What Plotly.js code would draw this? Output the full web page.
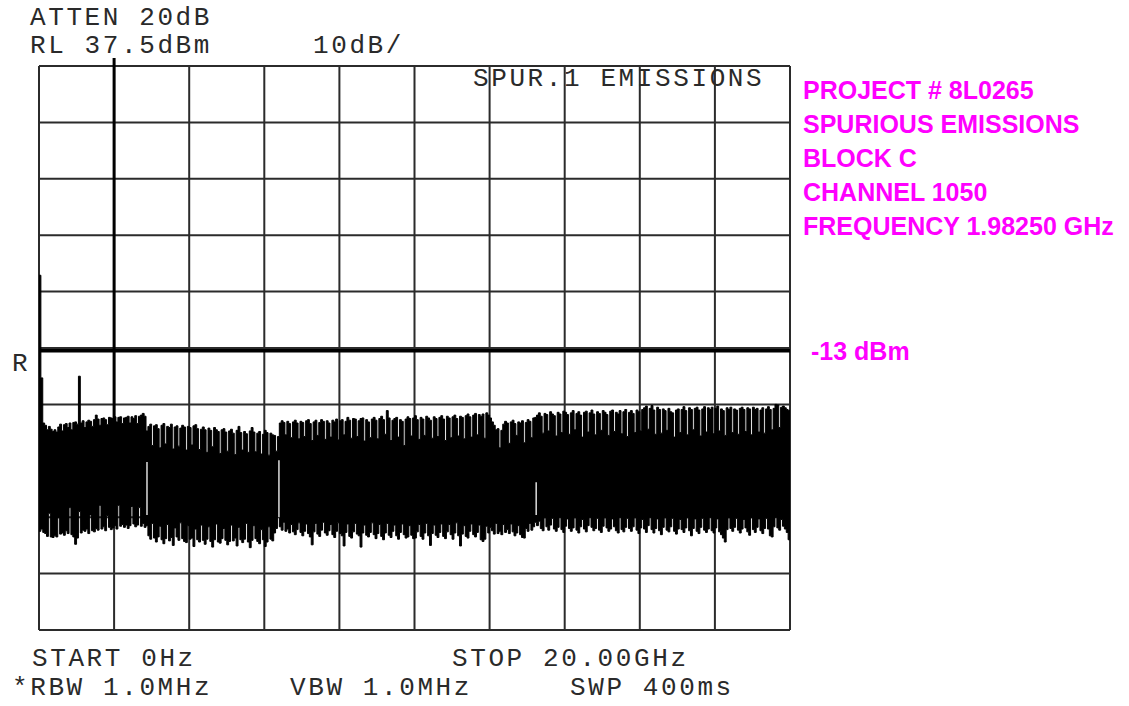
<!DOCTYPE html>
<html>
<head>
<meta charset="utf-8">
<script src="https://cdn.plot.ly/plotly-3.0.1.min.js"></script>
<style>
  html, body { margin: 0; padding: 0; background: #fff; }
  #chart { width: 1129px; height: 706px; }
</style>
</head>
<body>
<div id="chart"></div>
<script>
// ---------------- data ----------------
const START_GHZ = 0;
const STOP_GHZ = 20;
const REF_LEVEL_DBM = 37.5;
const DB_PER_DIV = 10;
const DISPLAY_LINE_DBM = -13;

// peak (max) of each sweep bucket, dBm, 400 buckets from START to STOP
const traceMax = [
  0.4, -17.8, -25.8, -26.2, -27.0, -26.4, -26.9, -27.3, -27.0, -27.4, -26.5, -26.0, -27.2, -26.1, -25.9, -26.6, -25.8, -27.0, -25.7, -25.6,
  -26.0, -17.5, -25.8, -25.4, -26.6, -25.6, -25.3, -25.5, -26.4, -25.2, -24.4, -25.1, -26.2, -25.0, -24.9, -25.2, -26.1, -24.8, -24.9, -25.0,
  -24.7, -25.6, -24.8, -24.7, -25.9, -24.9, -24.8, -24.6, -25.8, -24.7, -25.0, -24.5, -25.9, -24.6, -24.4, -24.1, -24.6, -27.2, -26.4, -26.0,
  -29.8, -26.3, -26.1, -26.8, -30.2, -26.2, -25.9, -29.5, -26.4, -26.6, -26.0, -30.4, -26.5, -26.3, -29.9, -26.7, -26.2, -26.5, -30.6, -26.4,
  -26.6, -29.7, -26.3, -26.1, -26.8, -30.5, -26.9, -26.5, -27.0, -31.0, -26.7, -27.1, -30.0, -26.6, -27.0, -27.3, -31.2, -27.0, -26.8, -27.4,
  -30.8, -27.2, -26.9, -27.6, -31.4, -27.1, -26.4, -27.5, -30.6, -27.3, -27.7, -31.0, -27.2, -26.6, -27.4, -30.9, -27.6, -27.3, -31.3, -27.8,
  -27.1, -27.5, -31.5, -27.6, -27.9, -28.0, -30.8, -28.2, -25.8, -25.4, -25.7, -27.9, -25.5, -25.9, -28.4, -25.6, -25.3, -25.8, -28.6, -25.5,
  -25.7, -28.2, -25.4, -25.2, -25.9, -28.9, -25.6, -25.3, -28.0, -25.7, -25.2, -25.5, -28.7, -25.4, -25.8, -28.3, -25.3, -25.6, -25.1, -28.8,
  -25.4, -25.2, -27.9, -25.5, -24.8, -25.3, -28.5, -25.0, -25.1, -28.2, -25.4, -25.0, -24.9, -29.0, -25.2, -25.6, -28.4, -25.1, -24.8, -25.3,
  -28.6, -25.0, -24.6, -25.2, -27.8, -23.6, -24.9, -28.9, -25.3, -25.0, -24.8, -28.3, -25.2, -25.5, -29.8, -25.1, -24.7, -25.0, -28.1, -24.9,
  -24.5, -25.2, -28.7, -24.8, -25.1, -28.0, -24.6, -24.9, -25.3, -28.5, -24.7, -25.0, -28.2, -24.8, -24.5, -25.1, -28.9, -24.6, -24.9, -28.4,
  -24.7, -24.4, -25.0, -28.1, -24.6, -24.8, -28.6, -24.5, -24.2, -24.7, -28.3, -24.4, -24.1, -27.9, -24.3, -24.6, -24.2, -28.5, -24.0, -24.4,
  -24.9, -25.6, -26.2, -27.0, -26.8, -30.2, -27.1, -26.0, -25.5, -25.8, -29.4, -25.6, -25.3, -25.9, -28.0, -25.6, -25.8, -25.4, -29.3, -25.7,
  -25.2, -25.5, -28.4, -24.9, -24.8, -24.4, -24.0, -24.6, -27.6, -24.1, -24.3, -27.2, -23.8, -24.2, -24.5, -28.1, -23.9, -24.2, -27.5, -23.7,
  -23.9, -24.3, -27.8, -24.0, -23.6, -27.0, -24.1, -23.8, -24.4, -28.3, -23.9, -23.7, -27.4, -24.0, -23.5, -24.2, -27.9, -23.8, -24.1, -27.1,
  -23.6, -23.9, -24.3, -28.0, -23.7, -23.5, -27.3, -23.9, -24.2, -23.6, -27.7, -23.8, -23.4, -28.2, -23.9, -23.6, -24.1, -27.5, -23.5, -23.8,
  -27.2, -23.4, -23.1, -22.8, -26.9, -23.2, -22.7, -23.5, -27.8, -23.0, -23.4, -27.6, -23.3, -23.6, -27.1, -23.2, -23.8, -24.0, -28.3, -23.5,
  -23.3, -27.5, -23.4, -22.9, -23.6, -27.9, -23.1, -23.4, -27.0, -23.2, -23.0, -23.5, -28.1, -23.3, -22.9, -27.4, -23.1, -23.4, -23.0, -27.7,
  -23.2, -22.8, -27.2, -23.3, -23.6, -28.0, -23.1, -23.4, -23.0, -27.5, -23.3, -23.5, -27.8, -23.2, -23.0, -23.4, -27.3, -23.1, -23.3, -27.9,
  -23.0, -23.4, -23.2, -27.4, -23.5, -23.1, -27.6, -23.3, -22.9, -23.4, -27.0, -23.2, -22.5, -22.6, -26.6, -23.0, -22.8, -23.1, -23.4, -23.6
];

// trough (min) of each sweep bucket, dBm
const traceMin = [
  -45.0, -44.6, -45.2, -45.4, -45.9, -41.8, -46.0, -46.1, -45.8, -46.0, -42.6, -45.5, -45.3, -45.7, -44.9, -45.4, -40.8, -45.6, -46.0, -47.3,
  -46.2, -41.5, -45.3, -44.8, -45.0, -44.6, -45.4, -42.1, -44.9, -45.1, -44.5, -44.8, -40.4, -44.6, -44.2, -44.9, -42.2, -44.3, -44.7, -44.4,
  -44.0, -44.6, -40.4, -44.1, -43.8, -44.3, -43.9, -44.5, -44.0, -40.6, -43.7, -44.2, -43.9, -40.8, -44.1, -43.6, -44.3, -44.0, -45.8, -46.4,
  -43.6, -46.2, -46.9, -46.0, -44.1, -46.5, -47.2, -46.3, -43.8, -46.7, -46.1, -47.5, -44.4, -46.0, -46.6, -43.5, -46.3, -46.8, -47.0, -44.0,
  -46.4, -46.2, -47.7, -44.6, -46.5, -46.9, -43.9, -46.6, -47.3, -46.4, -44.2, -46.8, -47.8, -46.5, -43.7, -46.9, -47.1, -46.3, -44.5, -46.6,
  -47.4, -46.8, -43.9, -46.7, -46.2, -47.6, -44.3, -46.5, -47.0, -46.4, -43.6, -46.9, -47.9, -46.6, -44.0, -46.3, -46.8, -47.2, -44.7, -46.5,
  -47.7, -46.9, -44.2, -46.4, -46.7, -45.3, -44.5, -42.5, -44.2, -44.8, -43.4, -45.0, -44.6, -45.3, -43.8, -45.1, -45.6, -44.7, -43.5, -45.2,
  -45.8, -45.0, -43.7, -45.4, -46.0, -47.4, -45.1, -43.6, -45.5, -45.9, -44.8, -43.4, -45.3, -45.7, -44.9, -43.8, -45.6, -46.1, -45.0, -43.5,
  -45.4, -45.8, -47.6, -45.2, -43.7, -45.9, -46.2, -45.1, -43.6, -45.5, -45.8, -47.8, -45.3, -43.9, -45.7, -46.0, -45.2, -43.5, -45.6, -46.3,
  -45.4, -43.8, -45.9, -46.5, -45.3, -43.6, -45.7, -46.1, -45.0, -43.9, -45.8, -46.4, -45.2, -43.7, -45.6, -46.2, -46.0, -44.0, -45.7, -46.3,
  -46.2, -45.1, -43.8, -45.9, -46.4, -45.3, -43.6, -45.8, -47.5, -45.4, -43.9, -45.7, -46.1, -45.2, -43.7, -45.9, -46.3, -45.1, -43.8, -45.6,
  -46.4, -45.3, -43.5, -45.8, -47.6, -45.5, -44.0, -45.9, -46.2, -45.0, -43.7, -45.6, -46.0, -45.2, -43.9, -46.5, -46.8, -46.4, -44.1, -45.3,
  -44.3, -44.9, -45.5, -43.6, -45.4, -45.0, -45.6, -43.8, -45.2, -44.7, -45.4, -43.7, -45.1, -45.8, -45.3, -44.0, -45.6, -46.1, -46.2, -44.5,
  -45.0, -43.6, -44.8, -44.2, -43.4, -44.0, -43.2, -44.5, -44.9, -42.6, -44.2, -44.8, -43.9, -42.7, -44.6, -45.0, -44.3, -42.5, -44.7, -45.2,
  -44.1, -42.8, -44.5, -45.0, -44.4, -42.6, -44.8, -45.3, -44.2, -42.9, -44.6, -45.1, -44.0, -42.5, -44.3, -44.9, -44.5, -42.7, -44.8, -45.2,
  -44.1, -42.6, -44.4, -45.0, -44.6, -42.8, -44.2, -44.9, -45.3, -42.5, -44.7, -45.1, -44.3, -42.7, -44.5, -45.0, -44.2, -42.6, -44.8, -45.4,
  -44.4, -42.9, -44.6, -45.2, -44.0, -42.5, -44.7, -45.3, -44.5, -42.8, -44.9, -45.6, -44.3, -42.6, -44.8, -45.1, -44.2, -42.7, -45.0, -45.5,
  -44.6, -42.9, -44.7, -45.2, -44.4, -42.6, -44.9, -45.8, -44.5, -42.8, -45.0, -45.4, -44.3, -42.7, -44.8, -45.2, -44.6, -42.5, -44.9, -45.3,
  -44.4, -42.8, -45.1, -45.6, -46.2, -46.9, -44.7, -42.6, -44.5, -45.0, -44.3, -42.7, -44.8, -45.3, -44.6, -42.9, -44.4, -45.1, -45.7, -42.6,
  -44.7, -45.2, -44.3, -42.8, -44.9, -45.4, -44.5, -42.7, -44.6, -45.8, -46.0, -44.2, -42.5, -44.4, -44.8, -42.9, -44.1, -44.6, -45.2, -46.5
];

// carrier (clipped above reference level)
const carrierFreqGHz = [2.0];
const carrierPeakDbm = [38.9];
const carrierFootDbm = [-25.3];

// one-column gaps where the sweep bands join
const bandJoinFreqGHz = [2.876, 6.39, 13.24];
const bandJoinTopDbm = [-32.7, -32.4, -36.3];
const bandJoinBottomDbm = [-42.1, -42.5, -42.1];

// header / footer texts
const headerLines = ["ATTEN 20dB", "RL 37.5dBm", "10dB/"];
const titleText = "SPUR.1 EMISSIONS";
const infoLines = ["PROJECT # 8L0265", "SPURIOUS EMISSIONS", "BLOCK C", "CHANNEL 1050", "FREQUENCY 1.98250 GHz"];
const limitLabel = "-13 dBm";
const footerLines = ["START 0Hz", "STOP 20.00GHz", "*RBW 1.0MHz", "VBW 1.0MHz", "SWP 400ms"];

// ---------------- layout geometry ----------------
const W = 1129, H = 706;
const M = { l: 35, r: 334, t: 56, b: 72 };
const PW = W - M.l - M.r, PH = H - M.t - M.b;
const GHZ_PX = 751 / (STOP_GHZ - START_GHZ);
const DB_PX = 564 / (10 * DB_PER_DIV);
const xRange = [START_GHZ - (39 - M.l) / GHZ_PX, START_GHZ + (M.l + PW - 39) / GHZ_PX];
const yTopDbm = REF_LEVEL_DBM + (66 - M.t) / DB_PX;
const yRange = [yTopDbm - PH / DB_PX, yTopDbm];
const bottomDbm = REF_LEVEL_DBM - 10 * DB_PER_DIV;

const n = traceMax.length;
const step = (STOP_GHZ - START_GHZ) / n;
const freq = traceMax.map((_, i) => START_GHZ + i * step);
const fx = freq.concat([STOP_GHZ]);
const fMax = traceMax.concat([traceMax[n - 1]]);
const fMin = traceMin.concat([traceMin[n - 1]]);

const traces = [
  { x: fx, y: fMax, type: 'scatter', mode: 'lines', line: { shape: 'hv', color: '#000', width: 1 }, hoverinfo: 'skip' },
  { x: fx, y: fMin, type: 'scatter', mode: 'lines', line: { shape: 'hv', color: '#000', width: 1 },
    fill: 'tonexty', fillcolor: '#000', hoverinfo: 'skip' },
];
// carrier
{
  const cx = [], cy = [];
  carrierFreqGHz.forEach((f, i) => { cx.push(f, f, null); cy.push(carrierFootDbm[i], carrierPeakDbm[i], null); });
  traces.push({ x: cx, y: cy, type: 'scatter', mode: 'lines', line: { color: '#000', width: 3 }, hoverinfo: 'skip' });
}
// band joins
{
  const bx = [], by = [];
  bandJoinFreqGHz.forEach((f, i) => { bx.push(f, f, null); by.push(bandJoinTopDbm[i], bandJoinBottomDbm[i], null); });
  traces.push({ x: bx, y: by, type: 'scatter', mode: 'lines', line: { color: '#fff', width: 1.3 }, hoverinfo: 'skip' });
}

// graticule
const shapes = [];
const gridColor = '#2b2b2b';
for (let k = 0; k <= 10; k++) {
  const gx = START_GHZ + k * (STOP_GHZ - START_GHZ) / 10;
  shapes.push({ type: 'line', xref: 'x', yref: 'y', x0: gx, x1: gx, y0: bottomDbm, y1: REF_LEVEL_DBM,
    line: { color: gridColor, width: 2 }, layer: 'below' });
  const gy = bottomDbm + k * DB_PER_DIV;
  shapes.push({ type: 'line', xref: 'x', yref: 'y', x0: START_GHZ, x1: STOP_GHZ, y0: gy, y1: gy,
    line: { color: gridColor, width: 2 }, layer: 'below' });
}
shapes.push({ type: 'line', xref: 'x', yref: 'y', x0: START_GHZ, x1: STOP_GHZ, y0: DISPLAY_LINE_DBM, y1: DISPLAY_LINE_DBM,
  line: { color: '#000', width: 3.5 }, layer: 'above' });

// text helpers (pixel positions -> paper)
const MONO = { family: 'Liberation Mono, DejaVu Sans Mono, monospace', size: 26, color: '#2a2a2a' };
const MAG = { family: 'Liberation Sans, Arial, sans-serif', size: 25, color: '#ff00ff', weight: 'bold' };
function ann(text, px, py, font) {
  return { xref: 'paper', yref: 'paper', x: (px - M.l) / PW, y: 1 - (py - M.t) / PH,
    xanchor: 'left', yanchor: 'middle', align: 'left', showarrow: false, text: text, font: font, borderpad: 0 };
}
const annotations = [
  ann(headerLines[0], 29, 18, MONO),
  ann(headerLines[1], 29, 46, MONO),
  ann(headerLines[2], 312, 46, MONO),
  ann(titleText, 472, 79, MONO),
  ann('R', 11, 364, MONO),
  ann(footerLines[0], 31, 659, MONO),
  ann(footerLines[1], 451, 659, MONO),
  ann(footerLines[2], 11, 688, MONO),
  ann(footerLines[3], 289, 688, MONO),
  ann(footerLines[4], 569, 688, MONO),
];
infoLines.forEach((t, i) => annotations.push(ann(t, 802, 90 + i * 34, MAG)));
annotations.push(ann(limitLabel, 810, 351, MAG));

const layout = {
  width: W, height: H, margin: M, showlegend: false,
  paper_bgcolor: '#fff', plot_bgcolor: '#fff',
  xaxis: { range: xRange, showgrid: false, zeroline: false, showline: false, showticklabels: false, ticks: '', fixedrange: true },
  yaxis: { range: yRange, showgrid: false, zeroline: false, showline: false, showticklabels: false, ticks: '', fixedrange: true },
  shapes: shapes, annotations: annotations,
};

Plotly.newPlot('chart', traces, layout, { staticPlot: true, displayModeBar: false }).then(() => {
  document.querySelectorAll('.annotation-text').forEach(el => {
    const fam = (el.style.fontFamily || el.getAttribute('style') || '');
    if (fam.indexOf('Mono') >= 0) el.style.letterSpacing = '2.6px';
  });
});
</script>
</body>
</html>
